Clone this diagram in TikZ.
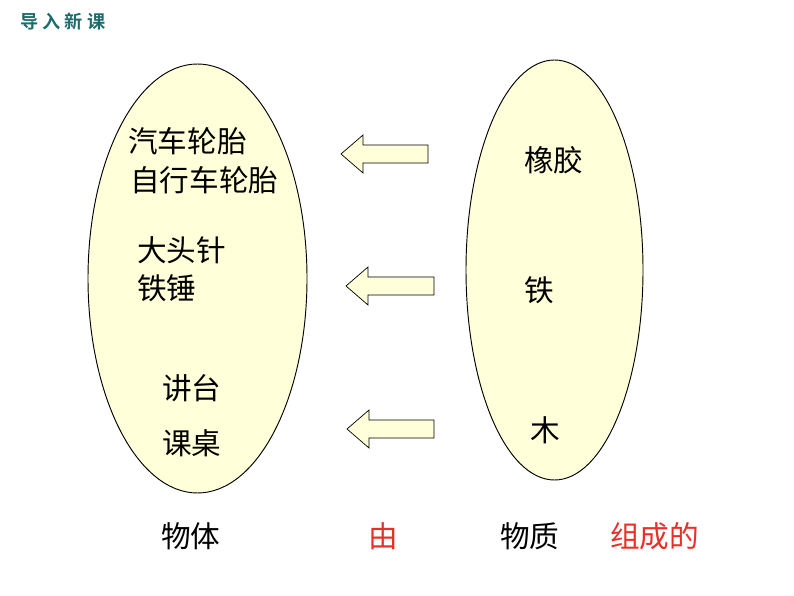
\documentclass[tikz,border=0pt]{standalone}
\usepackage{fontspec}
\newfontfamily\cjk{Noto Sans CJK SC}
\newfontfamily\cjkb{Noto Sans CJK SC Bold}
\usepackage{tikz}
\definecolor{pale}{HTML}{FFFFD9}
\definecolor{teal}{HTML}{1F6B6B}
\definecolor{redtxt}{HTML}{E8302A}
\tikzset{
  word/.style={anchor=west,inner sep=0pt,font=\cjk\fontsize{25.3}{30}\selectfont},
  blob/.style={draw=black,fill=pale,line width=0.8pt},
  barrow/.style={draw=black,fill=pale,line width=0.6pt},
}
\newcommand\blockarrow[3]{% left x, right x, center y
  \draw[barrow] (#1,#3) -- ++(22,-19) -- ++(0,10) -- (#2,#3-9) -- (#2,#3+9) -- (#1+22,#3+9) -- ++(0,10) -- cycle;}
\begin{document}
\begin{tikzpicture}[x=0.03cm,y=-0.03cm]
  \useasboundingbox (0,0) rectangle (794,596);
  \node[anchor=west,inner sep=0pt,text=teal,font=\cjkb\fontsize{15.5}{18}\selectfont] (title) at (20,22) {导 入 新 课};
  % ellipses
  \draw[blob] (197.5,278.5) ellipse [x radius=109.5, y radius=214.5];
  \draw[blob] (554.5,270) ellipse [x radius=88.5, y radius=210];
  % objects
  \node[word] (o1) at (128,141) {汽车轮胎};
  \node[word] (o2) at (130,180) {自行车轮胎};
  \node[word] (o3) at (137,250) {大头针};
  \node[word] (o4) at (137,288) {铁锤};
  \node[word] (o5) at (162,388) {讲台};
  \node[word] (o6) at (162,443) {课桌};
  % materials
  \node[word] (m1) at (524,160) {橡胶};
  \node[word] (m2) at (524,290) {铁};
  \node[word] (m3) at (530,430) {木};
  % arrows
  \blockarrow{341}{428}{154}
  \blockarrow{346}{434}{286}
  \blockarrow{347}{434}{429}
  % bottom line
  \node[word] (w1) at (161,536) {物体};
  \node[word,text=redtxt] (w2) at (368,536) {由};
  \node[word] (w3) at (500,536) {物质};
  \node[word,text=redtxt] (w4) at (610,536) {组成的};
\end{tikzpicture}
\end{document}
